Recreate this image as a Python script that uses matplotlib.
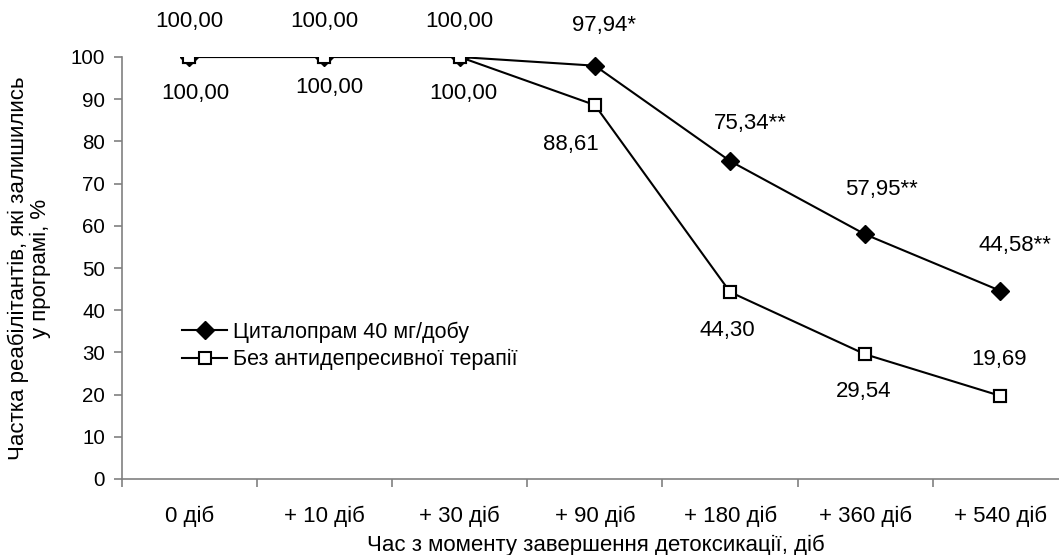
import matplotlib
matplotlib.use("Agg")
import matplotlib.pyplot as plt
from matplotlib.lines import Line2D

plt.rcParams['font.family'] = ['Liberation Sans', 'DejaVu Sans']

categories = ["0 діб", "+ 10 діб", "+ 30 діб", "+ 90 діб", "+ 180 діб", "+ 360 діб", "+ 540 діб"]
citalopram = [100.00, 100.00, 100.00, 97.94, 75.34, 57.95, 44.58]
citalopram_labels = ["100,00", "100,00", "100,00", "97,94*", "75,34**", "57,95**", "44,58**"]
no_therapy = [100.00, 100.00, 100.00, 88.61, 44.30, 29.54, 19.69]
no_therapy_labels = ["100,00", "100,00", "100,00", "88,61", "44,30", "29,54", "19,69"]
series_names = ["Циталопрам 40 мг/добу", "Без антидепресивної терапії"]
yticks = [0, 10, 20, 30, 40, 50, 60, 70, 80, 90, 100]

# label offsets in pixels (dx, dy)
cit_off = [(0, 35), (0, 35), (0, 35), (9, 40), (20, 38), (16, 45), (14, 45)]
bez_off = [(6, -36), (5, -30), (4, -36), (-24, -39), (-3, -38), (-2, -37), (-1, 36)]

W, H = 1059, 555
fig = plt.figure(figsize=(W / 100, H / 100), dpi=100)
ax = fig.add_axes([121.7 / W, 76 / H, 946.4 / W, 422 / H])

x = list(range(len(categories)))
fs = 16

ax.plot(x, no_therapy, color='black', lw=1.5, marker='s', markersize=8.5,
        markerfacecolor='white', markeredgecolor='black', markeredgewidth=1.5, zorder=3)
ax.plot(x, citalopram, color='black', lw=1.5, marker='D', markersize=9,
        markerfacecolor='black', markeredgecolor='black', zorder=2)
ax.plot(x, no_therapy, linestyle='none', marker='s', markersize=8.5,
        markerfacecolor='white', markeredgecolor='black', markeredgewidth=1.5, zorder=4)

for xi, v, lab, (dx, dy) in zip(x, citalopram, citalopram_labels, cit_off):
    ax.annotate(lab, (xi, v), xytext=(dx, dy), textcoords='offset pixels',
                ha='center', va='center', fontsize=fs, annotation_clip=False)
for xi, v, lab, (dx, dy) in zip(x, no_therapy, no_therapy_labels, bez_off):
    ax.annotate(lab, (xi, v), xytext=(dx, dy), textcoords='offset pixels',
                ha='center', va='center', fontsize=fs, annotation_clip=False)

ax.set_xlim(-0.5, len(categories) - 0.5)
ax.set_ylim(0, 100)
ax.set_yticks(yticks)
ax.set_yticklabels([str(t) for t in yticks], fontsize=14.8)
ax.set_xticks(x)
ax.set_xticklabels(categories, fontsize=fs)
ax.set_xticks([i + 0.5 for i in range(-1, len(categories))], minor=True)
ax.tick_params(axis='x', which='major', length=0, pad=19)
ax.tick_params(axis='x', which='minor', length=6, width=1.2, color='#808080', direction='out')
ax.tick_params(axis='y', which='major', length=6, width=1.2, color='#808080', direction='out', pad=6)

for s in ['top', 'right']:
    ax.spines[s].set_visible(False)
for s in ['left', 'bottom']:
    ax.spines[s].set_color('#808080')
    ax.spines[s].set_linewidth(1.2)

fig.text(29 / W, 1 - 268 / H, "Частка реабілітантів, які залишились\nу програмі, %",
         rotation=90, ha='center', va='center', multialignment='center', fontsize=fs,
         linespacing=1.05)
fig.text(596 / W, 1 - 545 / H, "Час з моменту завершення детоксикації, діб",
         ha='center', va='center', fontsize=fs)

h1 = Line2D([], [], color='black', lw=1.5, marker='D', markersize=9, markerfacecolor='black')
h2 = Line2D([], [], color='black', lw=1.5, marker='s', markersize=8.5, markerfacecolor='white',
            markeredgewidth=1.5)
fig.legend([h1, h2], series_names, loc='center left', bbox_to_anchor=(182 / W, 1 - 346 / H),
           frameon=False, fontsize=15.5, handlelength=2.1, handletextpad=0.25,
           labelspacing=0.3, borderpad=0, borderaxespad=0)

fig.savefig("out.png", dpi=100)
